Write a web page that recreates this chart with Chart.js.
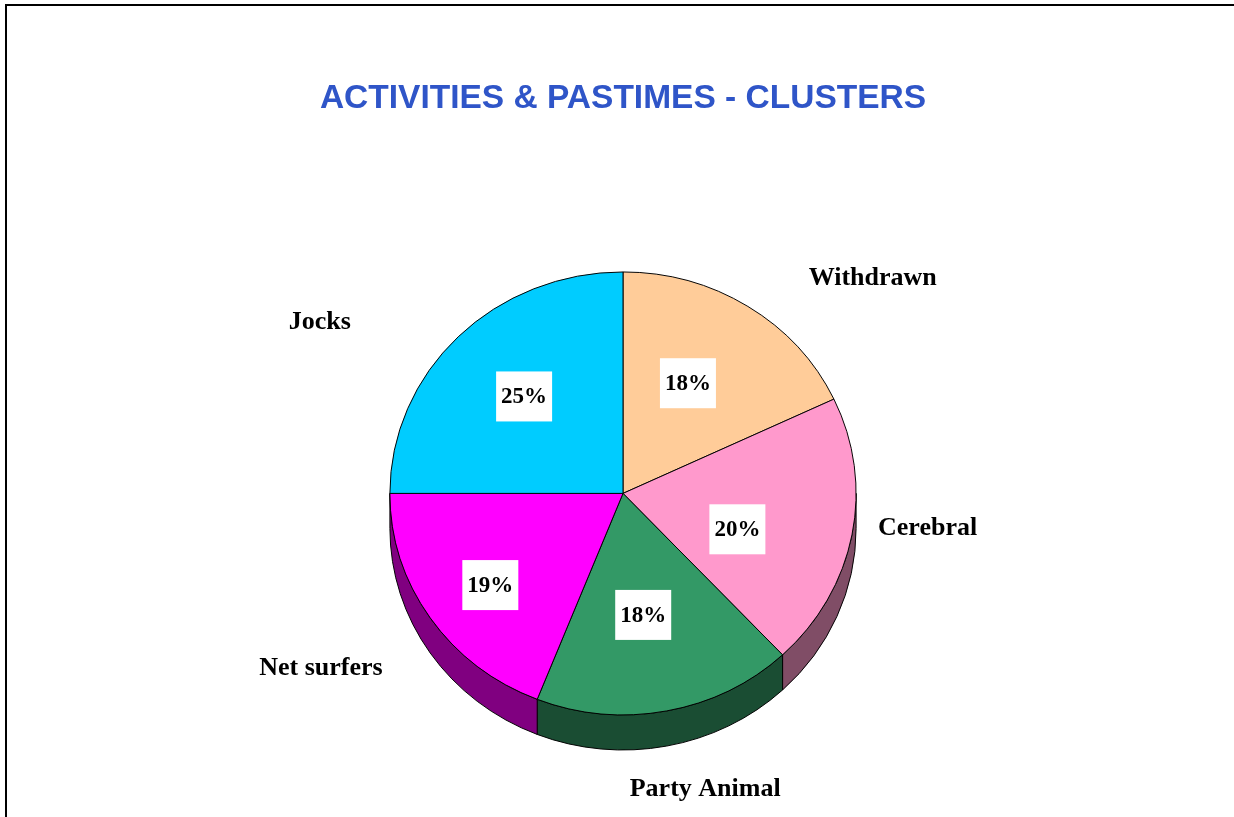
<!DOCTYPE html>
<html>
<head>
<meta charset="utf-8">
<title>Activities & Pastimes - Clusters</title>
<script src="https://cdn.jsdelivr.net/npm/chart.js@4.4.1/dist/chart.umd.min.js"></script>
<style>
  html, body { margin: 0; padding: 0; background: #fff; }
  #wrap { position: relative; width: 1234px; height: 817px; }
</style>
</head>
<body>
<div id="wrap"><canvas id="clusterChart"></canvas></div>
<script>
// data
const clusters = ["Withdrawn", "Cerebral", "Party Animal", "Net surfers", "Jocks"];
const shares = [18, 20, 18, 19, 25];
const sliceColors = ["#FFCC99", "#FF99CC", "#339966", "#FF00FF", "#00CCFF"];

// label tweaks (px) so the text sits where the original put it
const nameNudge = [[78, 2], [4, -20], [20, 9], [-39, 11], [-100, 10]];
const pctNudge = [[-10, 2], [-23, 11], [-6, -9], [-17, 17], [0, -3]];

const tilt = 0.95;      // vertical squash of the pie
const depth = 37;       // thickness of the pie (before squash)
const serif = "'Liberation Serif', 'Times New Roman', serif";

// side walls are the top colour at half brightness
function shade(hex) {
    const n = parseInt(hex.slice(1), 16);
    const r = (n >> 16) & 255, g = (n >> 8) & 255, b = n & 255;
    return `rgb(${Math.round(r / 2)}, ${Math.round(g / 2)}, ${Math.round(b / 2)})`;
}

const pie3d = {
    id: "pie3d",
    beforeDraw(chart) {
        const ctx = chart.ctx;
        ctx.save();
        ctx.fillStyle = "#fff";
        ctx.fillRect(0, 0, chart.width, chart.height);
        ctx.restore();
    },
    beforeDatasetsDraw(chart) {
        const ctx = chart.ctx;
        const arcs = chart.getDatasetMeta(0).data;
        const cx = arcs[0].x, cy = arcs[0].y;
        ctx.save();
        ctx.translate(cx, cy);
        ctx.scale(1, tilt);
        ctx.translate(-cx, -cy);
        arcs.forEach((arc, i) => {
            const r = arc.outerRadius;
            const a0 = Math.max(arc.startAngle, 0);
            const a1 = Math.min(arc.endAngle, Math.PI);
            if (a0 >= a1) return;
            ctx.beginPath();
            ctx.arc(cx, cy, r, a0, a1);
            ctx.lineTo(cx + r * Math.cos(a1), cy + r * Math.sin(a1) + depth);
            ctx.arc(cx, cy + depth, r, a1, a0, true);
            ctx.closePath();
            ctx.fillStyle = shade(sliceColors[i]);
            ctx.fill();
            ctx.lineWidth = 1;
            ctx.strokeStyle = "#000";
            ctx.stroke();
        });
    },
    afterDatasetsDraw(chart) {
        const ctx = chart.ctx;
        ctx.restore();

        const arcs = chart.getDatasetMeta(0).data;
        const total = shares.reduce((a, b) => a + b, 0);
        ctx.save();
        ctx.textAlign = "center";
        ctx.textBaseline = "middle";
        arcs.forEach((arc, i) => {
            const cx = arc.x, cy = arc.y, r = arc.outerRadius;
            const mid = (arc.startAngle + arc.endAngle) / 2;
            const cs = Math.cos(mid), sn = Math.sin(mid);

            // percentage in a white box
            const pct = Math.round(shares[i] / total * 100) + "%";
            ctx.font = "bold 23px " + serif;
            const pw = ctx.measureText(pct).width;
            const px = cx + 0.6 * r * cs + pctNudge[i][0];
            const py = cy + 0.6 * r * tilt * sn + pctNudge[i][1];
            ctx.fillStyle = "#fff";
            ctx.fillRect(px - pw / 2 - 5, py - 25, pw + 10, 50);
            ctx.fillStyle = "#000";
            ctx.fillText(pct, px, py + 1);

            // category name outside
            ctx.font = "bold 26px " + serif;
            const nw = ctx.measureText(clusters[i]).width;
            const ax = cx + 1.1 * r * cs;
            const ay = cy + 1.1 * r * tilt * sn + depth * tilt * Math.max(0, sn);
            const nx = ax + nw / 2 * cs + nameNudge[i][0];
            const ny = ay + 13 * sn + nameNudge[i][1];
            ctx.fillText(clusters[i], nx, ny);
        });
        ctx.restore();
    },
    afterDraw(chart) {
        const ctx = chart.ctx;
        ctx.save();
        ctx.fillStyle = "#000";
        ctx.fillRect(5, 4, 2, chart.height - 4);
        ctx.fillRect(5, 4, chart.width - 5, 2);
        ctx.restore();
    }
};

const chart = new Chart(document.getElementById("clusterChart"), {
    type: "pie",
    data: {
        labels: clusters,
        datasets: [{
            data: shares,
            backgroundColor: sliceColors,
            borderColor: "#000",
            borderWidth: 1
        }]
    },
    options: {
        responsive: true,
        maintainAspectRatio: false,
        animation: false,
        events: [],
        layout: {
            padding: { top: 79, bottom: 90, left: 212, right: 200 }
        },
        plugins: {
            legend: { display: false },
            tooltip: { enabled: false },
            title: {
                display: true,
                text: "ACTIVITIES & PASTIMES - CLUSTERS",
                color: "#2F55C8",
                font: { family: "'Liberation Sans', Arial, sans-serif", size: 33.5, weight: "bold" },
                padding: { top: 0, bottom: 140.6 }
            }
        }
    },
    plugins: [pie3d]
});
</script>
</body>
</html>
